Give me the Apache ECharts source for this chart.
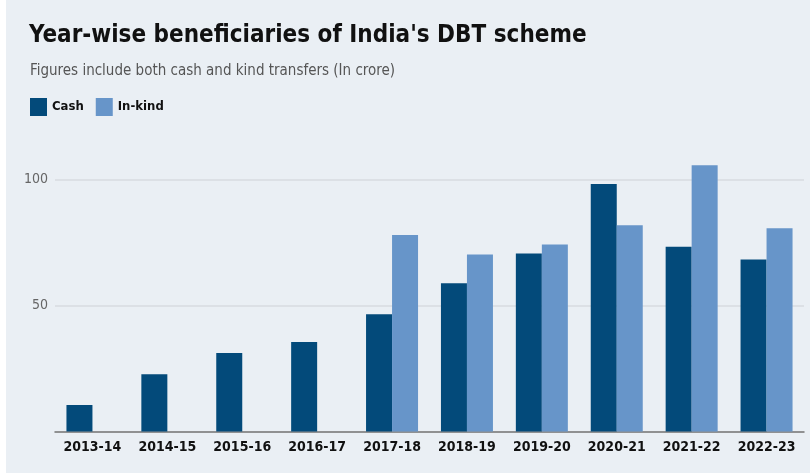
<!DOCTYPE html>
<html>
<head>
<meta charset="utf-8">
<script src="https://cdn.jsdelivr.net/npm/echarts@6/dist/echarts.min.js"></script>
<style>
    html, body { margin: 0; padding: 0; background: #ffffff; }
    #chart1 { width: 810px; height: 476px; }
</style>
</head>
<body>
<div id="chart1"></div>
<script>
var years = ['2013-14', '2014-15', '2015-16', '2016-17', '2017-18', '2018-19', '2019-20', '2020-21', '2021-22', '2022-23']
var cash = [10.5, 22.7, 31.1, 35.5, 46.5, 58.8, 70.6, 98.1, 73.3, 68.2]
var inKind = [null, null, null, null, 77.9, 70.2, 74.1, 81.8, 105.6, 80.6]
var yTicks = [0, 50, 100]

var narrow = '"Liberation Sans Narrow", "DejaVu Sans Condensed", sans-serif'

function _initChart () {
    var myChart = echarts.init(document.getElementById('chart1'))
    var option = {
        backgroundColor: '#eaeff4',
        animation: false,
        title: [{
            text: "Year-wise beneficiaries of India's DBT scheme",
            left: 24,
            top: 19,
            textStyle: {
                fontFamily: narrow,
                fontWeight: 'bold',
                fontSize: 24,
                color: '#111111'
            }
        }, {
            text: 'Figures include both cash and kind transfers (In crore)',
            left: 25,
            top: 59,
            textStyle: {
                fontFamily: narrow,
                fontWeight: 'normal',
                fontSize: 15,
                color: '#555555'
            }
        }],
        legend: {
            left: 25,
            top: 93,
            itemWidth: 17,
            itemHeight: 18,
            itemGap: 12,
            icon: 'rect',
            textStyle: {
                fontFamily: narrow,
                fontWeight: 'bold',
                fontSize: 13,
                color: '#111111'
            },
            data: ['Cash', 'In-kind']
        },
        graphic: [
            { type: 'rect', left: 0, top: 0, shape: { width: 6, height: 476 }, style: { fill: '#ffffff' }, silent: true },
            { type: 'rect', left: 0, top: 473, shape: { width: 810, height: 3 }, style: { fill: '#ffffff' }, silent: true }
        ],
        grid: {
            left: 55,
            right: 6,
            top: 179.3,
            bottom: 44.5
        },
        xAxis: [{
            type: 'category',
            data: years,
            axisTick: { show: false },
            axisLine: {
                lineStyle: { color: '#777777', width: 1.5 }
            },
            axisLabel: {
                interval: 0,
                margin: 9,
                fontFamily: narrow,
                fontWeight: 'bold',
                fontSize: 14,
                color: '#111111'
            }
        }],
        yAxis: [{
            type: 'value',
            min: yTicks[0],
            max: yTicks[yTicks.length - 1],
            interval: 50,
            axisTick: { show: false },
            axisLine: { show: false },
            axisLabel: {
                showMinLabel: false,
                margin: 7,
                fontFamily: narrow,
                fontSize: 14,
                color: '#666666'
            },
            splitLine: {
                show: true,
                lineStyle: { color: '#d7dbe1', width: 1.5 }
            }
        }],
        series: [
            {
                name: 'Cash',
                type: 'bar',
                barWidth: 26,
                barGap: '0%',
                clip: false,
                itemStyle: { color: '#034a7a' },
                data: cash
            },
            {
                name: 'In-kind',
                type: 'bar',
                barWidth: 26,
                barGap: '0%',
                clip: false,
                itemStyle: { color: '#6795c9' },
                data: inKind
            }
        ]
    }
    myChart.setOption(option)
}

_initChart()
</script>
</body>
</html>
